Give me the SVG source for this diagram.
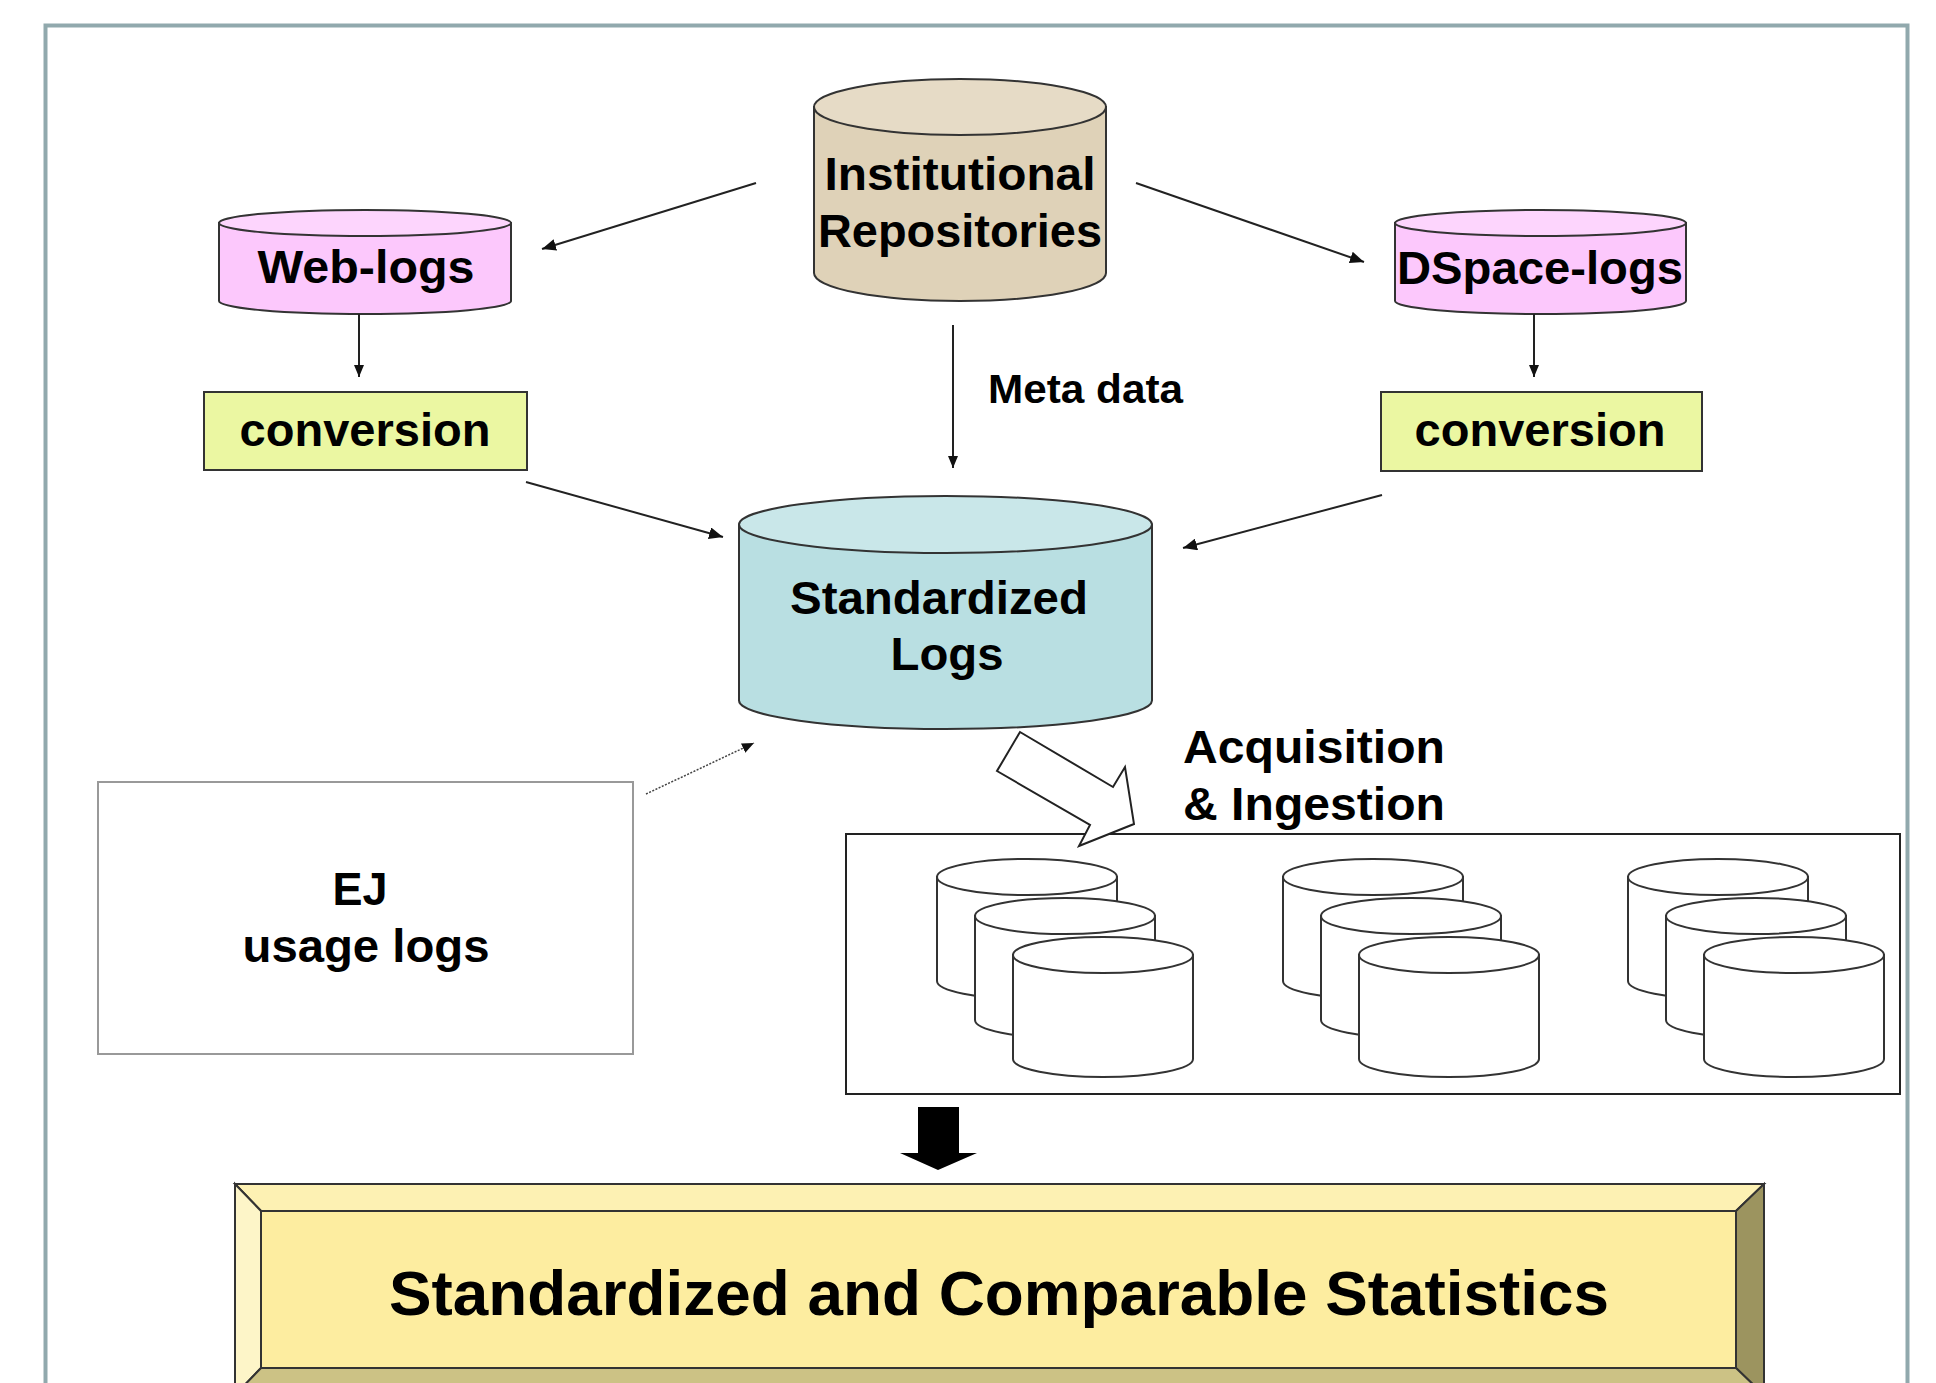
<svg xmlns="http://www.w3.org/2000/svg" width="1936" height="1383" viewBox="0 0 1936 1383">
  <style>
    .t { font-family: "Liberation Sans", Arial, sans-serif; font-weight: bold; fill: #000; }
    .c { text-anchor: middle; }
    .edge { stroke: #222; stroke-width: 2; fill: none; }
    .cylline { stroke: #333; stroke-width: 2; }
    .mini { fill: #fff; stroke: #333; stroke-width: 2; }
  </style>
  <defs>
    <marker id="ah" viewBox="0 0 14 12" refX="14" refY="6" markerWidth="14" markerHeight="12" markerUnits="userSpaceOnUse" orient="auto">
      <path d="M0,0 L14,6 L0,12 Z" fill="#111"/>
    </marker>
    <marker id="ahs" viewBox="0 0 12 10" refX="12" refY="5" markerWidth="12" markerHeight="10" markerUnits="userSpaceOnUse" orient="auto">
      <path d="M0,0 L12,5 L0,10 Z" fill="#111"/>
    </marker>
  </defs>

  <rect width="1936" height="1383" fill="#fff"/>
  <!-- outer frame -->
  <rect x="45.5" y="25.5" width="1862" height="1400" fill="none" stroke="#91a9ad" stroke-width="4"/>

  <!-- Institutional Repositories -->
  <g id="ir">
    <path d="M814,107 V273 A146,28 0 0 0 1106,273 V107 Z" fill="#dfd2b8" class="cylline"/>
    <ellipse cx="960" cy="107" rx="146" ry="28" fill="#e6dbc6" class="cylline"/>
    <text class="t c" x="960" y="190" font-size="47" textLength="271" lengthAdjust="spacingAndGlyphs">Institutional</text>
    <text class="t c" x="960" y="247" font-size="47" textLength="284" lengthAdjust="spacingAndGlyphs">Repositories</text>
  </g>

  <!-- Web-logs -->
  <g id="weblogs">
    <path d="M219,223 V301 A146,13 0 0 0 511,301 V223 Z" fill="#fcc8fc" class="cylline"/>
    <ellipse cx="365" cy="223" rx="146" ry="13" fill="#fdd5fd" class="cylline"/>
    <text class="t c" x="366" y="283" font-size="46" textLength="217" lengthAdjust="spacingAndGlyphs">Web-logs</text>
  </g>

  <!-- DSpace-logs -->
  <g id="dspacelogs">
    <path d="M1395,223 V301 A145.5,13 0 0 0 1686,301 V223 Z" fill="#fcc8fc" class="cylline"/>
    <ellipse cx="1540.5" cy="223" rx="145.5" ry="13" fill="#fdd5fd" class="cylline"/>
    <text class="t c" x="1540" y="284" font-size="46" textLength="286" lengthAdjust="spacingAndGlyphs">DSpace-logs</text>
  </g>

  <!-- conversion boxes -->
  <g id="conv-left">
    <rect x="204" y="392" width="323" height="78" fill="#ebf7a2" stroke="#333" stroke-width="2"/>
    <text class="t c" x="365" y="446" font-size="46" textLength="251" lengthAdjust="spacingAndGlyphs">conversion</text>
  </g>
  <g id="conv-right">
    <rect x="1381" y="392" width="321" height="79" fill="#ebf7a2" stroke="#333" stroke-width="2"/>
    <text class="t c" x="1540" y="446" font-size="46" textLength="251" lengthAdjust="spacingAndGlyphs">conversion</text>
  </g>

  <!-- Standardized Logs -->
  <g id="stdlogs">
    <path d="M739,524.5 V700.5 A206.5,28.5 0 0 0 1152,700.5 V524.5 Z" fill="#b9dfe2" class="cylline"/>
    <ellipse cx="945.5" cy="524.5" rx="206.5" ry="28.5" fill="#c9e7e9" class="cylline"/>
    <text class="t c" x="939" y="614" font-size="47" textLength="298" lengthAdjust="spacingAndGlyphs">Standardized</text>
    <text class="t c" x="947" y="670" font-size="47" textLength="113" lengthAdjust="spacingAndGlyphs">Logs</text>
  </g>

  <!-- EJ usage logs -->
  <g id="ej">
    <rect x="98" y="782" width="535" height="272" fill="#fff" stroke="#999" stroke-width="2"/>
    <text class="t c" x="360" y="905" font-size="46" textLength="55" lengthAdjust="spacingAndGlyphs">EJ</text>
    <text class="t c" x="366" y="962" font-size="46" textLength="247" lengthAdjust="spacingAndGlyphs">usage logs</text>
  </g>

  <!-- Acquisition label -->
  <g id="acq-label">
    <text class="t" x="1183" y="763" font-size="47" textLength="262" lengthAdjust="spacingAndGlyphs">Acquisition</text>
    <text class="t" x="1183" y="820" font-size="47" textLength="262" lengthAdjust="spacingAndGlyphs">&amp; Ingestion</text>
  </g>

  <!-- Storage box with cylinder stacks -->
  <g id="storage">
    <rect x="846" y="834" width="1054" height="260" fill="#fff" stroke="#222" stroke-width="2"/>
    <defs>
      <g id="minicyl">
        <path d="M-90,0 V104 A90,18 0 0 0 90,104 V0 Z" class="mini"/>
        <ellipse cx="0" cy="0" rx="90" ry="18" class="mini"/>
      </g>
      <g id="stack">
        <use href="#minicyl" x="0" y="0"/>
        <use href="#minicyl" x="38" y="39"/>
        <use href="#minicyl" x="76" y="78"/>
      </g>
    </defs>
    <use href="#stack" x="1027" y="877"/>
    <use href="#stack" x="1373" y="877"/>
    <use href="#stack" x="1718" y="877"/>
  </g>

  <!-- Final statistics box -->
  <g id="stats">
    <polygon points="235,1184 1764,1184 1736,1211 261,1211" fill="#fdf1b3" stroke="#333" stroke-width="2"/>
    <polygon points="235,1184 261,1211 261,1368 235,1395" fill="#fdf5c8" stroke="#333" stroke-width="2"/>
    <polygon points="1764,1184 1764,1395 1736,1368 1736,1211" fill="#9c945f" stroke="#333" stroke-width="2"/>
    <polygon points="235,1395 261,1368 1736,1368 1764,1395" fill="#ccc285" stroke="#333" stroke-width="2"/>
    <rect x="261" y="1211" width="1475" height="157" fill="#fdeda0" stroke="#333" stroke-width="2"/>
    <text class="t c" x="999" y="1315" font-size="63" textLength="1220" lengthAdjust="spacingAndGlyphs">Standardized and Comparable Statistics</text>
  </g>

  <!-- Connectors -->
  <g id="connectors">
    <line class="edge" x1="756" y1="183" x2="542" y2="249" marker-end="url(#ah)"/>
    <line class="edge" x1="1136" y1="183" x2="1364" y2="262" marker-end="url(#ah)"/>
    <line class="edge" x1="359" y1="314" x2="359" y2="377" stroke-width="1.6" marker-end="url(#ahs)"/>
    <line class="edge" x1="1534" y1="314" x2="1534" y2="377" stroke-width="1.6" marker-end="url(#ahs)"/>
    <line class="edge" x1="953" y1="325" x2="953" y2="468" stroke-width="1.8" marker-end="url(#ahs)"/>
    <text class="t" x="988" y="403" font-size="40" textLength="195" lengthAdjust="spacingAndGlyphs">Meta data</text>
    <line class="edge" x1="526" y1="482" x2="723" y2="537" marker-end="url(#ah)"/>
    <line class="edge" x1="1382" y1="495" x2="1183" y2="548" marker-end="url(#ah)"/>
    <line x1="646" y1="794" x2="754" y2="743" stroke="#444" stroke-width="1.5" stroke-dasharray="2,1.5" marker-end="url(#ahs)"/>
    <polygon points="1020,732 1113,787 1125,767 1134,824 1079,846 1090,825 997,771" fill="#fff" stroke="#222" stroke-width="2" stroke-linejoin="miter"/>
    <polygon points="918,1107 959,1107 959,1153 977,1153 938,1170 900,1153 918,1153" fill="#000"/>
  </g>
</svg>
